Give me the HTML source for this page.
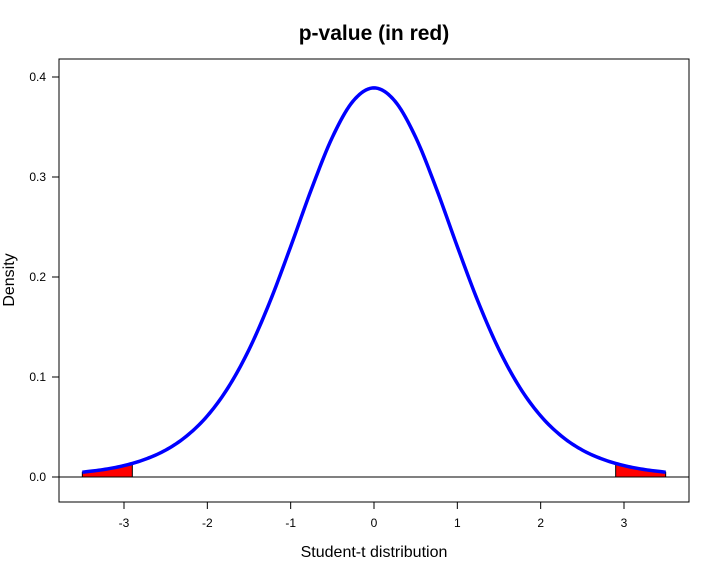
<!DOCTYPE html>
<html><head><meta charset="utf-8"><style>
body{margin:0;background:#fff;}
svg{display:block;font-family:"Liberation Sans",Arial,sans-serif;}
</style></head><body>
<svg id="chart" width="720" height="576">
<text x="374" y="40" text-anchor="middle" font-size="21" font-weight="bold">p-value (in red)</text>
<rect x="59" y="59" width="630" height="443" fill="none" stroke="#000" stroke-width="1"/>
<g id="xaxis"></g>
<g id="yaxis"></g>
<line x1="59" x2="689" y1="477" y2="477" stroke="#000" stroke-width="1"/>
<g id="marks"></g>
<text x="374" y="557" text-anchor="middle" font-size="16">Student-t distribution</text>
<text transform="translate(14,280) rotate(-90)" text-anchor="middle" font-size="16">Density</text>
</svg>
<script>
const xValues=[-3.5,-3.25,-3,-2.75,-2.5,-2.25,-2,-1.75,-1.5,-1.25,-1,-0.75,-0.5,-0.25,0,0.25,0.5,0.75,1,1.25,1.5,1.75,2,2.25,2.5,2.75,3,3.25,3.5];
const densityValues=[0.0048,0.0074,0.0114,0.0176,0.0269,0.0409,0.0611,0.0895,0.1274,0.1751,0.2304,0.2880,0.3397,0.3760,0.3891,0.3760,0.3397,0.2880,0.2304,0.1751,0.1274,0.0895,0.0611,0.0409,0.0269,0.0176,0.0114,0.0074,0.0048];
const xTicks=[-3,-2,-1,0,1,2,3];
const yTicks=[0,0.1,0.2,0.3,0.4];
const yTickLabels=["0.0","0.1","0.2","0.3","0.4"];
const criticalT=2.88;
const NS="http://www.w3.org/2000/svg";
const sx=v=>374+v*83.333;
const sy=v=>477-v*1000;
function mk(tag,attrs,parent){const e=document.createElementNS(NS,tag);for(const k in attrs)e.setAttribute(k,attrs[k]);parent.appendChild(e);return e;}
const xa=document.getElementById('xaxis'),ya=document.getElementById('yaxis'),marks=document.getElementById('marks');
xTicks.forEach(t=>{
  const l=mk('line',{x1:sx(t),x2:sx(t),y1:502,y2:509,stroke:'#000'},xa);
  
  
  const tx=mk('text',{x:sx(t),y:527,'text-anchor':'middle','font-size':12},xa);
  tx.textContent=t;
  
  
});
yTicks.forEach((t,i)=>{
  const l=mk('line',{x1:52,x2:59,y1:sy(t),y2:sy(t),stroke:'#000'},ya);
  
  
  const tx=mk('text',{x:46,y:sy(t)+4,'text-anchor':'end','font-size':12},ya);
  tx.textContent=yTickLabels[i];
  
  
});
// densify with Catmull-Rom interpolation for smooth rendering
const pts=[];
for(let i=0;i<xValues.length-1;i++){
  const p0=i>0?i-1:i,p3=i+2<xValues.length?i+2:i+1;
  for(let s=0;s<10;s++){
    const t=s/10,t2=t*t,t3=t2*t;
    const cr=(a,b,c,d)=>0.5*(2*b+(-a+c)*t+(2*a-5*b+4*c-d)*t2+(-a+3*b-3*c+d)*t3);
    pts.push([cr(xValues[p0],xValues[i],xValues[i+1],xValues[p3]),cr(densityValues[p0],densityValues[i],densityValues[i+1],densityValues[p3])]);
  }
}
pts.push([xValues[xValues.length-1],densityValues[densityValues.length-1]]);
function tail(cond){
  const sel=pts.filter(p=>cond(p[0]));
  if(!sel.length)return;
  let d='M'+sx(sel[0][0])+','+sy(0);
  sel.forEach(p=>d+='L'+sx(p[0])+','+sy(p[1]));
  d+='L'+sx(sel[sel.length-1][0])+','+sy(0)+'Z';
  return mk('path',{d:d,fill:'#ff0000',stroke:'#000','stroke-width':1},marks);
}
const lt=tail(x=>x<=-criticalT);


const rt=tail(x=>x>=criticalT);


const curve=mk('polyline',{points:pts.map(p=>sx(p[0])+','+sy(p[1])).join(' '),fill:'none',stroke:'#0000ff','stroke-width':3.5,'stroke-linejoin':'round'},marks);


</script>
</body></html>
